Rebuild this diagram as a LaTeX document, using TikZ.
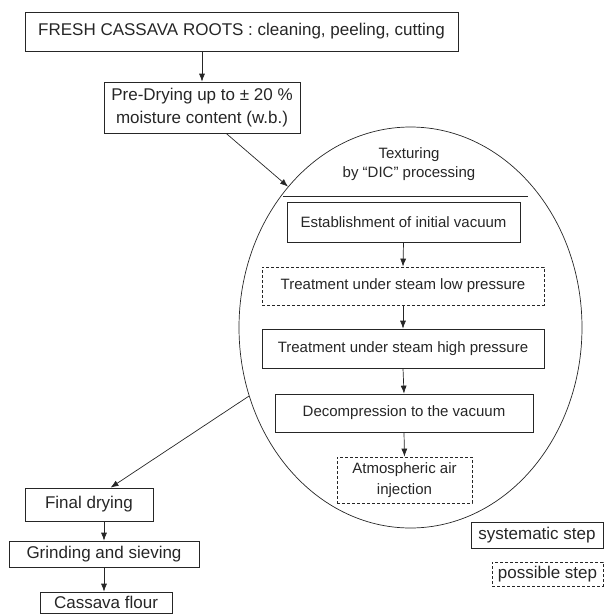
\documentclass[tikz,border=0pt]{standalone}
\usepackage{fontspec}
\setmainfont{Liberation Sans}
\usetikzlibrary{shapes.geometric,arrows.meta}

\begin{document}
\begin{tikzpicture}[x=1pt,y=-1pt,line width=0.7pt,draw=black!85,text=black!85,
  >={Latex[length=8pt,width=6pt]}]
\tikzstyle{bigbox}=[draw,rectangle,inner sep=0pt,align=center,font=\fontsize{17}{20}\selectfont]
\tikzstyle{inbox}=[draw,rectangle,inner sep=0pt,align=center,font=\fontsize{15}{21}\selectfont]
\tikzstyle{maybe}=[dashed,dash pattern=on 3pt off 2pt]

\useasboundingbox (0,0) rectangle (604,614);

%top of the chain
\node[bigbox,minimum width=433pt,minimum height=39pt] (fresh) at (241.5,31.5) {FRESH CASSAVA ROOTS : cleaning, peeling, cutting};
\node[bigbox,minimum width=196pt,minimum height=51pt,font=\fontsize{17}{23}\selectfont] (predry) at (202,107.5) {Pre-Drying up to ± 20 \%\\moisture content (w.b.)};

%the DIC ellipse
\node[draw,ellipse,inner sep=0pt,minimum width=343pt,minimum height=401pt] (tex) at (410.5,327.5) {};
\node[align=center,font=\fontsize{15}{19}\selectfont] (title) at (409,164.5) {Texturing\\by ``DIC'' processing};
\draw (283,196) -- (528,196);

%boxes inside the ellipse
\node[inbox,minimum width=233pt,minimum height=40pt] (vac) at (403.5,222) {Establishment of initial vacuum};
\node[inbox,maybe,minimum width=282pt,minimum height=38pt] (low) at (403,286) {Treatment under steam low pressure};
\node[inbox,minimum width=282pt,minimum height=39pt] (high) at (403,348.5) {Treatment under steam high pressure};
\node[inbox,minimum width=258pt,minimum height=38pt] (dec) at (404,413) {Decompression to the vacuum};
\node[inbox,maybe,minimum width=135pt,minimum height=46pt] (air) at (404.5,480) {Atmospheric air\\injection};

%bottom of the chain
\node[bigbox,minimum width=128pt,minimum height=33pt] (fd) at (89,504.5) {Final drying};
\node[bigbox,minimum width=190pt,minimum height=26pt] (gs) at (104,554) {Grinding and sieving};
\node[bigbox,minimum width=132pt,minimum height=21pt] (cf) at (106,602.5) {Cassava flour};

%legend
\node[bigbox,minimum width=132pt,minimum height=26pt] (sys) at (537,535) {systematic step};
\node[bigbox,maybe,minimum width=111pt,minimum height=24pt] (pos) at (547.5,574) {possible step};

%arrows
\draw[->] (predry.north |- fresh.south) -- (predry.north);
\draw[->] (predry.-47) -- (tex.131);
\draw[->] (vac.south) -- (low.north);
\draw[->] (low.south) -- (high.north);
\draw[->] (high.south) -- (dec.north);
\draw[->] (dec.south) -- (air.north);
\draw[->] (tex.203) -- (fd.38);
\draw[->] (fd.south -| gs.north) -- (gs.north);
\draw[->] (gs.south) -- (cf.north -| gs.south);
\end{tikzpicture}
\end{document}
